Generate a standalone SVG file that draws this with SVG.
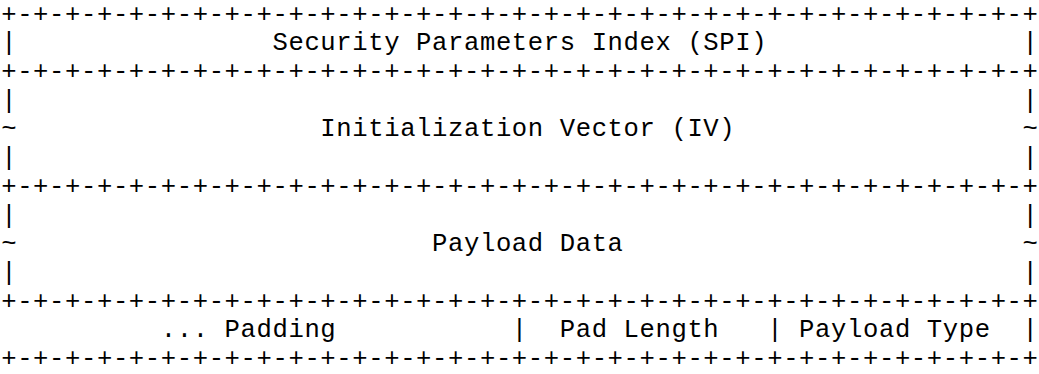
<svg xmlns="http://www.w3.org/2000/svg" width="1039" height="374" viewBox="0 0 1039 374">
<style>
text{font-family:"Liberation Mono","Courier New",monospace;font-size:25.6px;letter-spacing:0.6px;fill:#000;white-space:pre}
</style>
<rect width="1039" height="374" fill="#fff"/>
<g id="borders">
<text x="1.2" y="21.5" xml:space="preserve">+-+-+-+-+-+-+-+-+-+-+-+-+-+-+-+-+-+-+-+-+-+-+-+-+-+-+-+-+-+-+-+-+</text>
<text x="1.2" y="78.9" xml:space="preserve">+-+-+-+-+-+-+-+-+-+-+-+-+-+-+-+-+-+-+-+-+-+-+-+-+-+-+-+-+-+-+-+-+</text>
<text x="1.2" y="193.8" xml:space="preserve">+-+-+-+-+-+-+-+-+-+-+-+-+-+-+-+-+-+-+-+-+-+-+-+-+-+-+-+-+-+-+-+-+</text>
<text x="1.2" y="308.6" xml:space="preserve">+-+-+-+-+-+-+-+-+-+-+-+-+-+-+-+-+-+-+-+-+-+-+-+-+-+-+-+-+-+-+-+-+</text>
<text x="1.2" y="366" xml:space="preserve">+-+-+-+-+-+-+-+-+-+-+-+-+-+-+-+-+-+-+-+-+-+-+-+-+-+-+-+-+-+-+-+-+</text>
</g>
<g id="spi">
<text x="1.2" y="50.2" xml:space="preserve">|                Security Parameters Index (SPI)                |</text>
</g>
<g id="iv">
<text x="1.2" y="107.6" xml:space="preserve">|                                                               |</text>
<text x="1.2" y="136.3" xml:space="preserve">~                   Initialization Vector (IV)                  ~</text>
<text x="1.2" y="165.1" xml:space="preserve">|                                                               |</text>
</g>
<g id="payload">
<text x="1.2" y="222.5" xml:space="preserve">|                                                               |</text>
<text x="1.2" y="251.2" xml:space="preserve">~                          Payload Data                         ~</text>
<text x="1.2" y="279.9" xml:space="preserve">|                                                               |</text>
</g>
<g id="trailer">
<text x="1.2" y="337.3" xml:space="preserve">          ... Padding           |  Pad Length   | Payload Type  |</text>
</g>
</svg>
